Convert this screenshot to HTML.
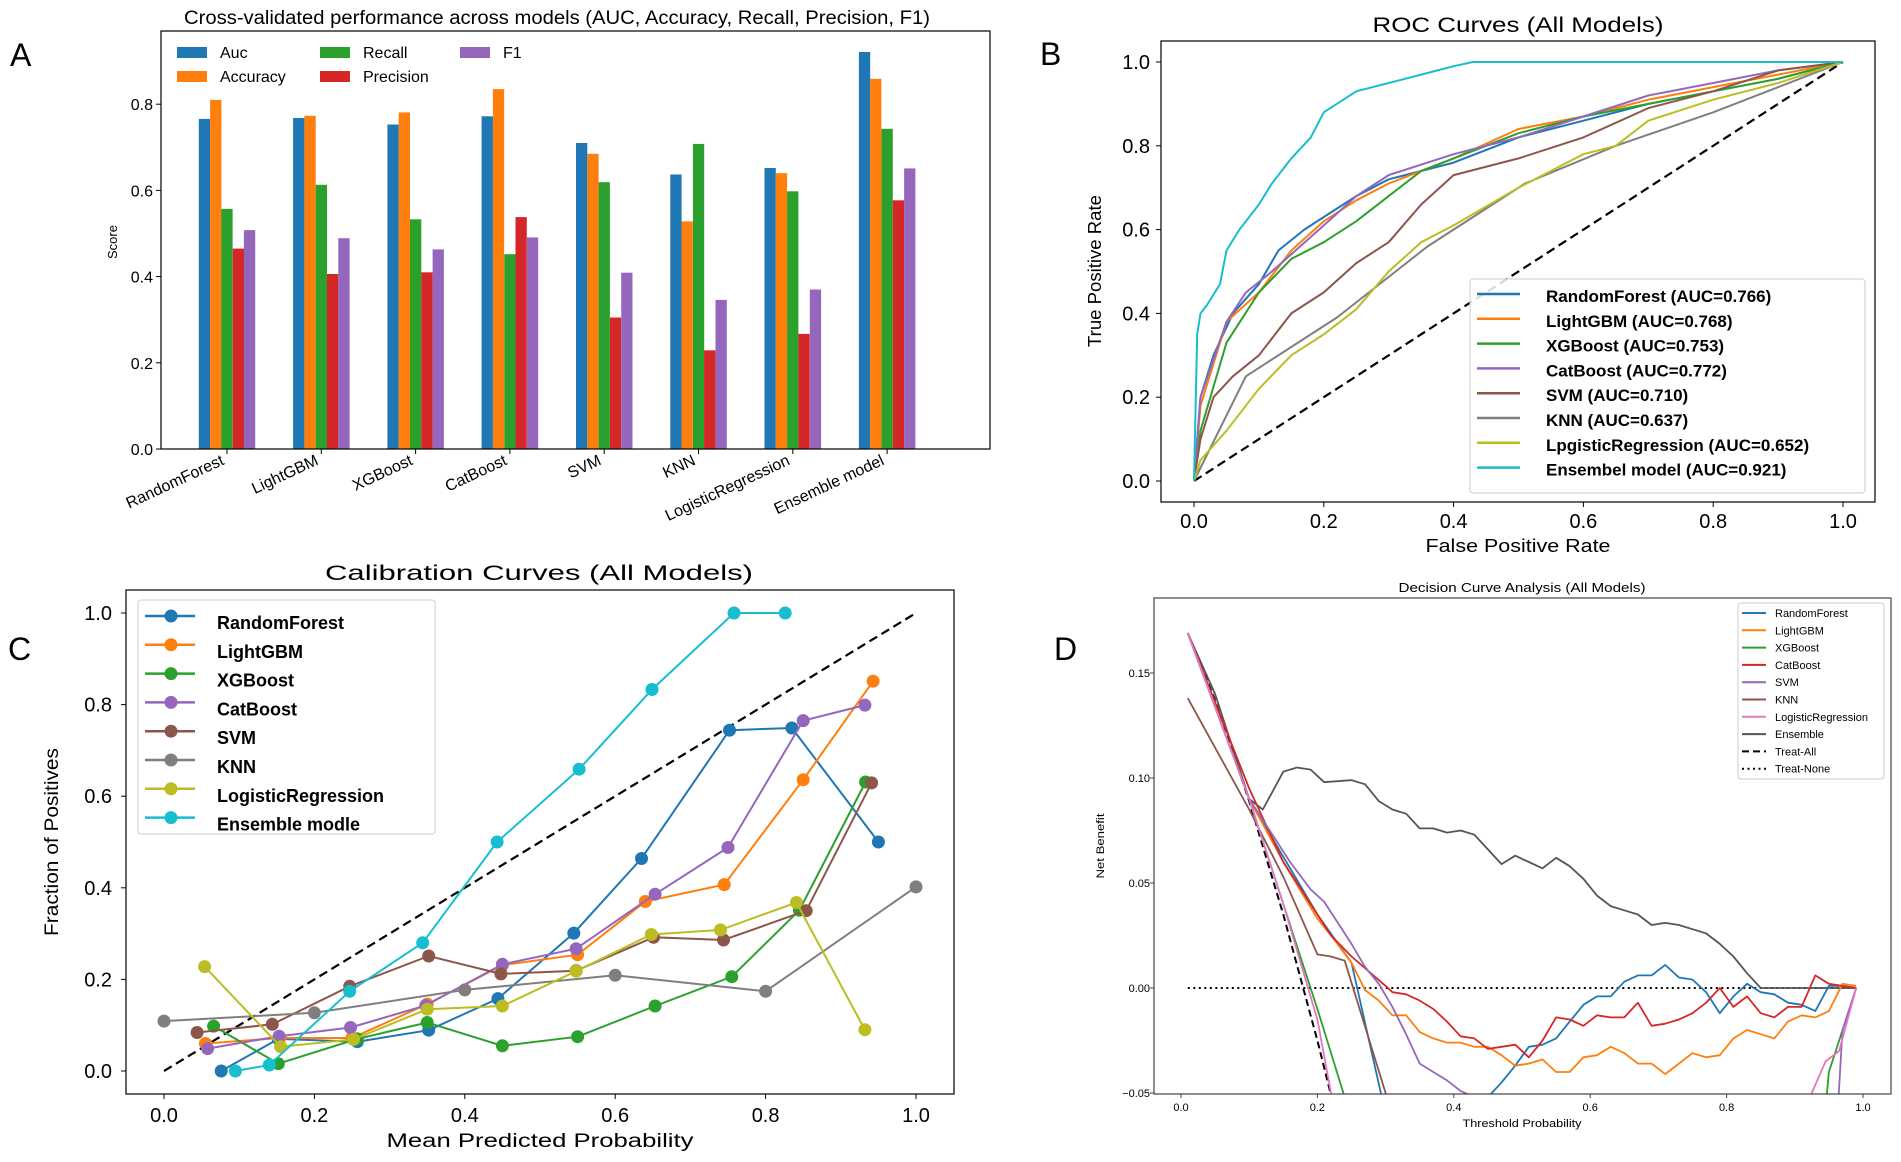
<!DOCTYPE html>
<html><head><meta charset="utf-8">
<style>
html,body{margin:0;padding:0;background:#fff;width:1901px;height:1162px;overflow:hidden;}
svg{display:block;font-family:"Liberation Sans",sans-serif;}
</style></head>
<body>
<svg id="chart" width="1901" height="1162" viewBox="0 0 1901 1162" xmlns="http://www.w3.org/2000/svg">
<defs>
<clipPath id="clipA"><rect x="161" y="31" width="829" height="418"/></clipPath>
<clipPath id="clipB"><rect x="1161" y="41" width="714" height="461"/></clipPath>
<clipPath id="clipC"><rect x="126" y="590" width="828" height="504"/></clipPath>
<clipPath id="clipD"><rect x="1154" y="598" width="737" height="496"/></clipPath>
</defs>
</svg>
<script>
// ---------- Panel A data ----------
const barModels = ["RandomForest","LightGBM","XGBoost","CatBoost","SVM","KNN","LogisticRegression","Ensemble model"];
const aucVals  = [0.766,0.768,0.753,0.772,0.710,0.637,0.652,0.921];
const accVals  = [0.810,0.773,0.781,0.835,0.685,0.528,0.640,0.859];
const recVals  = [0.557,0.613,0.533,0.452,0.619,0.708,0.598,0.743];
const precVals = [0.465,0.406,0.410,0.538,0.305,0.229,0.267,0.577];
const f1Vals   = [0.508,0.489,0.463,0.491,0.409,0.346,0.370,0.651];
const barSeriesNames = ["Auc","Accuracy","Recall","Precision","F1"];
const barTicks = [0.0,0.2,0.4,0.6,0.8];

// ---------- Panel B data (ROC) ----------
const rocNames = ["RandomForest (AUC=0.766)","LightGBM (AUC=0.768)","XGBoost (AUC=0.753)","CatBoost (AUC=0.772)","SVM (AUC=0.710)","KNN (AUC=0.637)","LpgisticRegression (AUC=0.652)","Ensembel model (AUC=0.921)"];
const rocRF_x = [0,0.01,0.03,0.06,0.1,0.13,0.17,0.2,0.25,0.3,0.4,0.5,0.6,0.7,0.8,0.9,1];
const rocRF_y = [0,0.2,0.3,0.4,0.47,0.55,0.6,0.63,0.68,0.72,0.76,0.82,0.86,0.9,0.93,0.96,1];
const rocLG_x = [0,0.01,0.05,0.1,0.15,0.2,0.25,0.3,0.4,0.5,0.6,0.7,0.8,0.9,1];
const rocLG_y = [0,0.18,0.38,0.45,0.55,0.62,0.67,0.71,0.77,0.84,0.87,0.91,0.94,0.97,1];
const rocXG_x = [0,0.01,0.05,0.1,0.15,0.2,0.25,0.3,0.35,0.4,0.5,0.6,0.7,0.8,0.9,1];
const rocXG_y = [0,0.12,0.33,0.45,0.53,0.57,0.62,0.68,0.74,0.77,0.83,0.87,0.9,0.93,0.96,1];
const rocCB_x = [0,0.01,0.05,0.08,0.12,0.2,0.25,0.3,0.4,0.5,0.6,0.7,0.8,0.9,1];
const rocCB_y = [0,0.2,0.38,0.45,0.5,0.61,0.68,0.73,0.78,0.82,0.87,0.92,0.95,0.98,1];
const rocSV_x = [0,0.01,0.03,0.06,0.1,0.15,0.2,0.25,0.3,0.35,0.4,0.5,0.6,0.7,0.8,0.9,1];
const rocSV_y = [0,0.1,0.2,0.25,0.3,0.4,0.45,0.52,0.57,0.66,0.73,0.77,0.82,0.89,0.93,0.98,1];
const rocKN_x = [0,0.08,0.22,0.36,0.51,0.65,0.8,1];
const rocKN_y = [0,0.25,0.39,0.56,0.71,0.8,0.88,1];
const rocLR_x = [0,0.01,0.05,0.1,0.15,0.2,0.25,0.3,0.35,0.4,0.5,0.6,0.65,0.7,0.8,0.9,1];
const rocLR_y = [0,0.05,0.12,0.22,0.3,0.35,0.41,0.5,0.57,0.61,0.7,0.78,0.8,0.86,0.91,0.95,1];
const rocEN_x = [0,0.005,0.01,0.02,0.04,0.05,0.07,0.1,0.12,0.15,0.18,0.2,0.25,0.3,0.35,0.4,0.43,1];
const rocEN_y = [0,0.35,0.4,0.42,0.47,0.55,0.6,0.66,0.71,0.77,0.82,0.88,0.93,0.95,0.97,0.99,1,1];
const unitTicks = [0,0.2,0.4,0.6,0.8,1.0];

// ---------- Panel C data (calibration) ----------
const calNames = ["RandomForest","LightGBM","XGBoost","CatBoost","SVM","KNN","LogisticRegression","Ensemble modle"];
const calRF_x = [0.076,0.152,0.257,0.352,0.444,0.545,0.635,0.752,0.835,0.95];
const calRF_y = [0,0.07,0.064,0.089,0.158,0.301,0.464,0.744,0.749,0.5];
const calLG_x = [0.055,0.154,0.25,0.35,0.45,0.55,0.64,0.745,0.85,0.943];
const calLG_y = [0.06,0.072,0.072,0.146,0.231,0.254,0.37,0.407,0.636,0.851];
const calXG_x = [0.066,0.152,0.257,0.35,0.45,0.55,0.653,0.755,0.845,0.933];
const calXG_y = [0.098,0.016,0.07,0.106,0.055,0.075,0.142,0.206,0.351,0.631];
const calCB_x = [0.058,0.153,0.248,0.348,0.45,0.548,0.653,0.75,0.85,0.932];
const calCB_y = [0.049,0.076,0.095,0.143,0.233,0.267,0.386,0.488,0.765,0.799];
const calSV_x = [0.044,0.144,0.247,0.352,0.448,0.548,0.651,0.744,0.854,0.941];
const calSV_y = [0.084,0.102,0.185,0.251,0.212,0.219,0.292,0.286,0.35,0.629];
const calKN_x = [0,0.2,0.4,0.6,0.8,1.0];
const calKN_y = [0.109,0.127,0.177,0.209,0.174,0.402];
const calLR_x = [0.054,0.155,0.252,0.35,0.45,0.548,0.648,0.74,0.841,0.932];
const calLR_y = [0.228,0.053,0.069,0.135,0.142,0.218,0.298,0.308,0.368,0.09];
const calEN_x = [0.095,0.14,0.247,0.344,0.443,0.552,0.649,0.758,0.826];
const calEN_y = [0,0.013,0.174,0.28,0.5,0.659,0.833,1.0,1.0];

// ---------- Panel D data (decision curves) ----------
const dcaNames = ["RandomForest","LightGBM","XGBoost","CatBoost","SVM","KNN","LogisticRegression","Ensemble","Treat-All","Treat-None"];
const dcaRF_x = [0.01,0.1,0.2,0.25,0.3,0.35,0.4,0.43,0.45,0.47,0.49,0.51,0.53,0.55,0.57,0.59,0.61,0.63,0.65,0.67,0.69,0.71,0.73,0.75,0.77,0.79,0.81,0.83,0.85,0.87,0.89,0.91,0.93,0.95,0.97,0.99];
const dcaRF_y = [0.169,0.09,0.035,0.012,-0.06,-0.075,-0.075,-0.07,-0.052,-0.045,-0.037,-0.028,-0.027,-0.024,-0.016,-0.008,-0.004,-0.004,0.003,0.006,0.006,0.011,0.005,0.004,-0.002,-0.012,-0.004,0.002,-0.002,-0.003,-0.007,-0.008,-0.011,0.001,0.001,0];
const dcaLG_x = [0.01,0.1,0.15,0.2,0.22,0.25,0.27,0.29,0.31,0.33,0.35,0.37,0.39,0.41,0.43,0.45,0.47,0.49,0.51,0.53,0.55,0.57,0.59,0.61,0.63,0.65,0.67,0.69,0.71,0.73,0.75,0.77,0.79,0.81,0.83,0.85,0.87,0.89,0.91,0.93,0.95,0.97,0.99];
const dcaLG_y = [0.169,0.09,0.06,0.033,0.025,0.012,-0.001,-0.006,-0.013,-0.013,-0.021,-0.024,-0.026,-0.026,-0.028,-0.028,-0.032,-0.037,-0.036,-0.034,-0.04,-0.04,-0.033,-0.032,-0.028,-0.031,-0.036,-0.036,-0.041,-0.036,-0.031,-0.033,-0.032,-0.024,-0.02,-0.022,-0.024,-0.016,-0.013,-0.014,-0.011,0.002,0.001];
const dcaXG_x = [0.01,0.1,0.15,0.2,0.24,0.27,0.94,0.95,0.99];
const dcaXG_y = [0.169,0.09,0.04,-0.01,-0.052,-0.075,-0.075,-0.04,0];
const dcaCB_x = [0.01,0.1,0.15,0.2,0.22,0.25,0.3,0.31,0.33,0.35,0.37,0.39,0.41,0.43,0.45,0.47,0.49,0.51,0.53,0.55,0.57,0.59,0.61,0.63,0.65,0.67,0.69,0.71,0.73,0.75,0.77,0.79,0.81,0.83,0.85,0.87,0.89,0.91,0.93,0.95,0.97,0.99];
const dcaCB_y = [0.169,0.095,0.06,0.035,0.025,0.015,0.001,-0.002,-0.003,-0.006,-0.01,-0.016,-0.023,-0.024,-0.029,-0.028,-0.027,-0.033,-0.025,-0.014,-0.015,-0.018,-0.013,-0.014,-0.014,-0.007,-0.018,-0.017,-0.015,-0.012,-0.007,0,-0.009,-0.004,-0.012,-0.014,-0.009,-0.009,0.006,0.002,0.001,0];
const dcaSV_x = [0.01,0.1,0.13,0.16,0.19,0.21,0.23,0.25,0.27,0.29,0.31,0.33,0.35,0.37,0.39,0.41,0.43,0.45,0.96,0.97,0.99];
const dcaSV_y = [0.169,0.09,0.075,0.06,0.047,0.041,0.031,0.021,0.01,0.002,-0.009,-0.022,-0.036,-0.04,-0.044,-0.049,-0.052,-0.075,-0.075,-0.02,0];
const dcaKN_x = [0.01,0.1,0.15,0.2,0.22,0.24,0.3,0.32];
const dcaKN_y = [0.138,0.085,0.053,0.016,0.015,0.013,-0.05,-0.075];
const dcaLR_x = [0.01,0.1,0.15,0.2,0.22,0.25,0.9,0.925,0.945,0.965,0.99];
const dcaLR_y = [0.169,0.09,0.04,-0.015,-0.05,-0.075,-0.075,-0.05,-0.035,-0.03,0];
const dcaEN_x = [0.01,0.05,0.1,0.12,0.15,0.17,0.19,0.21,0.25,0.27,0.29,0.31,0.33,0.35,0.37,0.39,0.41,0.43,0.45,0.47,0.49,0.51,0.53,0.55,0.57,0.59,0.61,0.63,0.65,0.67,0.69,0.71,0.73,0.75,0.77,0.79,0.81,0.83,0.85,0.99];
const dcaEN_y = [0.169,0.14,0.09,0.085,0.103,0.105,0.104,0.098,0.099,0.097,0.089,0.085,0.083,0.076,0.076,0.074,0.075,0.073,0.066,0.059,0.063,0.06,0.057,0.062,0.058,0.052,0.044,0.039,0.037,0.035,0.03,0.031,0.03,0.028,0.026,0.021,0.015,0.007,0,0];
const dcaAll_x = [0.01,0.05,0.1,0.15,0.2,0.22];
const dcaAll_y = [0.169,0.137,0.089,0.035,-0.025,-0.051];
const dcaNone_x = [0.01,0.99];
const dcaNone_y = [0,0];
const dcaXTicks = [0,0.2,0.4,0.6,0.8,1.0];
const dcaYTicks = [-0.05,0,0.05,0.10,0.15];
const dcaYLabels = ["\u22120.05","0.00","0.05","0.10","0.15"];

// ---------- helpers ----------
const NS = "http://www.w3.org/2000/svg";
const svg = document.getElementById('chart');
function mk(tag, attrs, parent){
  const el = document.createElementNS(NS, tag);
  for (const k in attrs) el.setAttribute(k, attrs[k]);
  (parent||svg).appendChild(el);
  return el;
}
function txt(s, attrs, parent){
  const el = mk('text', attrs, parent);
  el.textContent = s;
  return el;
}
const C = {blue:"#1f77b4",orange:"#ff7f0e",green:"#2ca02c",red:"#d62728",purple:"#9467bd",brown:"#8c564b",pink:"#e377c2",gray:"#7f7f7f",olive:"#bcbd22",cyan:"#17becf"};
function pathFrom(xs, ys, sx, sy){
  let d = "";
  for (let i=0;i<xs.length;i++) d += (i?"L":"M") + sx(xs[i]).toFixed(1) + "," + sy(ys[i]).toFixed(1);
  return d;
}

// ================= PANEL A =================
const gA = mk('g', {});


const xA = i => 227 + i*94.3;
const yA = v => 449 - v*431;
const barW = 11.3;
let el;
el = txt("A", {x:10, y:66, "font-size":32, "font-family":"Liberation Sans Narrow, Liberation Sans, sans-serif"}, gA);


el = txt("Cross-validated performance across models (AUC, Accuracy, Recall, Precision, F1)", {x:557, y:24, "font-size":19, "text-anchor":"middle", textLength:746, lengthAdjust:"spacingAndGlyphs"}, gA);


const barSeries = [aucVals, accVals, recVals, precVals, f1Vals];
const barColors = [C.blue, C.orange, C.green, C.red, C.purple];
const barsG = mk('g', {"clip-path":"url(#clipA)"}, gA);
for (let s=0;s<barSeries.length;s++){
  for (let i=0;i<barModels.length;i++){
    const v = barSeries[s][i];
    const x = xA(i) - 2.5*barW + s*barW;
    const b = mk('rect', {x:x.toFixed(1), y:yA(v).toFixed(1), width:barW, height:(yA(0)-yA(v)).toFixed(1), fill:barColors[s]}, barsG);
    
    
  }
}
el = mk('rect', {x:161, y:31, width:829, height:418, fill:"none", stroke:"#000", "stroke-width":1.2}, gA);


for (const t of barTicks){
  mk('line', {x1:156, x2:161, y1:yA(t), y2:yA(t), stroke:"#000"}, gA);
  el = txt(t.toFixed(1), {x:153, y:yA(t)+6, "font-size":16, "text-anchor":"end"}, gA);
  
  
}
for (let i=0;i<barModels.length;i++){
  mk('line', {x1:xA(i), x2:xA(i), y1:449, y2:454, stroke:"#000"}, gA);
  el = txt(barModels[i], {x:xA(i)-2, y:464, "font-size":16, "text-anchor":"end", transform:`rotate(-25 ${xA(i)-2} 464)`}, gA);
  
  
}
el = txt("Score", {x:117, y:242, "font-size":13, "text-anchor":"middle", transform:"rotate(-90 117 242)"}, gA);


const legAPos = [[177,52],[177,76],[320,52],[320,76],[460,52]];
for (let s=0;s<5;s++){
  const [lx,ly] = legAPos[s];
  const lg = mk('g', {}, gA);
  
  
  mk('rect', {x:lx, y:ly-5, width:30, height:11, fill:barColors[s]}, lg);
  txt(barSeriesNames[s], {x:lx+43, y:ly+6, "font-size":16, "font-family":"Liberation Sans Narrow, Liberation Sans, sans-serif"}, lg);
}

// ================= PANEL B =================
const gB = mk('g', {});


const xB = v => 1194 + v*649;
const yB = v => 481 - v*419;
el = txt("B", {x:1040, y:65, "font-size":32, "font-family":"Liberation Sans Narrow, Liberation Sans, sans-serif"}, gB);


el = txt("ROC Curves (All Models)", {x:1518, y:32, "font-size":21, "text-anchor":"middle", textLength:291, lengthAdjust:"spacingAndGlyphs"}, gB);


const rocX = [rocRF_x,rocLG_x,rocXG_x,rocCB_x,rocSV_x,rocKN_x,rocLR_x,rocEN_x];
const rocY = [rocRF_y,rocLG_y,rocXG_y,rocCB_y,rocSV_y,rocKN_y,rocLR_y,rocEN_y];
const rocColors = [C.blue,C.orange,C.green,C.purple,C.brown,C.gray,C.olive,C.cyan];
const rocG = mk('g', {"clip-path":"url(#clipB)"}, gB);
el = mk('path', {d:pathFrom([0,1],[0,1],xB,yB), fill:"none", stroke:"#000", "stroke-width":2.2, "stroke-dasharray":"9,5"}, rocG);


for (let s=0;s<8;s++){
  el = mk('path', {d:pathFrom(rocX[s],rocY[s],xB,yB), fill:"none", stroke:rocColors[s], "stroke-width":2, "stroke-linejoin":"round"}, rocG);
  
  
}
el = mk('rect', {x:1161, y:41, width:714, height:461, fill:"none", stroke:"#000", "stroke-width":1.2}, gB);


for (const t of unitTicks){
  mk('line', {x1:1156, x2:1161, y1:yB(t), y2:yB(t), stroke:"#000"}, gB);
  el = txt(t.toFixed(1), {x:1150, y:yB(t)+7, "font-size":20, "text-anchor":"end"}, gB);
  
  
  mk('line', {x1:xB(t), x2:xB(t), y1:502, y2:507, stroke:"#000"}, gB);
  el = txt(t.toFixed(1), {x:xB(t), y:528, "font-size":20, "text-anchor":"middle"}, gB);
  
  
}
el = txt("False Positive Rate", {x:1518, y:552, "font-size":18, "text-anchor":"middle", textLength:185, lengthAdjust:"spacingAndGlyphs"}, gB);


el = txt("True Positive Rate", {x:1101, y:271, "font-size":18, "text-anchor":"middle", textLength:152, lengthAdjust:"spacingAndGlyphs", transform:"rotate(-90 1101 271)"}, gB);


el = mk('rect', {x:1470, y:279, width:395, height:214, rx:3, fill:"#fff", "fill-opacity":0.85, stroke:"#ccc"}, gB);


for (let s=0;s<8;s++){
  const ly = 294 + s*24.8;
  const lg = mk('g', {}, gB);
  
  
  mk('line', {x1:1477, x2:1520, y1:ly, y2:ly, stroke:rocColors[s], "stroke-width":2.5}, lg);
  txt(rocNames[s], {x:1546, y:ly+8, "font-size":17, "font-weight":"bold"}, lg);
}

// ================= PANEL C =================
const gC = mk('g', {});


const xC = v => 164 + v*752;
const yC = v => 1071 - v*458;
el = txt("C", {x:8, y:660, "font-size":32, "font-family":"Liberation Sans Narrow, Liberation Sans, sans-serif"}, gC);


el = txt("Calibration Curves (All Models)", {x:539, y:580, "font-size":21, "text-anchor":"middle", textLength:428, lengthAdjust:"spacingAndGlyphs"}, gC);


const calX = [calRF_x,calLG_x,calXG_x,calCB_x,calSV_x,calKN_x,calLR_x,calEN_x];
const calY = [calRF_y,calLG_y,calXG_y,calCB_y,calSV_y,calKN_y,calLR_y,calEN_y];
const calG = mk('g', {"clip-path":"url(#clipC)"}, gC);
el = mk('path', {d:pathFrom([0,1],[0,1],xC,yC), fill:"none", stroke:"#000", "stroke-width":2.2, "stroke-dasharray":"9,5"}, calG);


for (let s=0;s<8;s++){
  const sg = mk('g', {}, calG);
  
  
  mk('path', {d:pathFrom(calX[s],calY[s],xC,yC), fill:"none", stroke:rocColors[s], "stroke-width":2}, sg);
  for (let i=0;i<calX[s].length;i++){
    const p = mk('circle', {cx:xC(calX[s][i]).toFixed(1), cy:yC(calY[s][i]).toFixed(1), r:6.5, fill:rocColors[s]}, sg);
    
    
  }
}
el = mk('rect', {x:126, y:590, width:828, height:504, fill:"none", stroke:"#000", "stroke-width":1.2}, gC);


for (const t of unitTicks){
  mk('line', {x1:121, x2:126, y1:yC(t), y2:yC(t), stroke:"#000"}, gC);
  el = txt(t.toFixed(1), {x:112, y:yC(t)+7, "font-size":20, "text-anchor":"end"}, gC);
  
  
  mk('line', {x1:xC(t), x2:xC(t), y1:1094, y2:1099, stroke:"#000"}, gC);
  el = txt(t.toFixed(1), {x:xC(t), y:1122, "font-size":20, "text-anchor":"middle"}, gC);
  
  
}
el = txt("Mean Predicted Probability", {x:540, y:1147, "font-size":19, "text-anchor":"middle", textLength:307, lengthAdjust:"spacingAndGlyphs"}, gC);


el = txt("Fraction of Positives", {x:58, y:842, "font-size":19, "text-anchor":"middle", textLength:188, lengthAdjust:"spacingAndGlyphs", transform:"rotate(-90 58 842)"}, gC);


el = mk('rect', {x:138, y:600, width:297, height:234, rx:3, fill:"#fff", "fill-opacity":0.85, stroke:"#ccc"}, gC);


for (let s=0;s<8;s++){
  const ly = 616 + s*28.8;
  const lg = mk('g', {}, gC);
  
  
  mk('line', {x1:145, x2:195, y1:ly, y2:ly, stroke:rocColors[s], "stroke-width":2.5}, lg);
  mk('circle', {cx:171, cy:ly, r:6.5, fill:rocColors[s]}, lg);
  txt(calNames[s], {x:217, y:ly+13, "font-size":18, "font-weight":"bold"}, lg);
}

// ================= PANEL D =================
const gD = mk('g', {});


const xD = v => 1181 + v*682;
const yD = v => 988 - v*2100;
el = txt("D", {x:1054, y:660, "font-size":32, "font-family":"Liberation Sans Narrow, Liberation Sans, sans-serif"}, gD);


el = txt("Decision Curve Analysis (All Models)", {x:1522, y:592, "font-size":13, "text-anchor":"middle", textLength:247, lengthAdjust:"spacingAndGlyphs"}, gD);


const dcaX = [dcaRF_x,dcaLG_x,dcaXG_x,dcaCB_x,dcaSV_x,dcaKN_x,dcaLR_x,dcaEN_x,dcaAll_x,dcaNone_x];
const dcaY = [dcaRF_y,dcaLG_y,dcaXG_y,dcaCB_y,dcaSV_y,dcaKN_y,dcaLR_y,dcaEN_y,dcaAll_y,dcaNone_y];
const dcaColors = [C.blue,C.orange,C.green,C.red,C.purple,C.brown,C.pink,"#555",'#000','#000'];
const dcaDash = [null,null,null,null,null,null,null,null,"7,4","2,3.5"];
const dcaOrder = [9,8,7,0,1,2,3,4,5,6];
const dcaG = mk('g', {"clip-path":"url(#clipD)"}, gD);
for (const s of dcaOrder){
  const attrs = {d:pathFrom(dcaX[s],dcaY[s],xD,yD), fill:"none", stroke:dcaColors[s], "stroke-width":s>=8?2:1.8, "stroke-linejoin":"round"};
  if (dcaDash[s]) attrs["stroke-dasharray"] = dcaDash[s];
  el = mk('path', attrs, dcaG);
  
  
}
el = mk('rect', {x:1154, y:598, width:737, height:496, fill:"none", stroke:"#444", "stroke-width":1.2}, gD);


for (let i=0;i<dcaYTicks.length;i++){
  const t = dcaYTicks[i];
  mk('line', {x1:1150, x2:1154, y1:yD(t), y2:yD(t), stroke:"#444"}, gD);
  el = txt(dcaYLabels[i], {x:1150, y:yD(t)+4, "font-size":11, "text-anchor":"end"}, gD);
  
  
}
for (const t of dcaXTicks){
  mk('line', {x1:xD(t), x2:xD(t), y1:1094, y2:1098, stroke:"#444"}, gD);
  el = txt(t.toFixed(1), {x:xD(t), y:1111, "font-size":11, "text-anchor":"middle"}, gD);
  
  
}
el = txt("Threshold Probability", {x:1522, y:1127, "font-size":11, "text-anchor":"middle", textLength:119, lengthAdjust:"spacingAndGlyphs"}, gD);


el = txt("Net Benefit", {x:1104, y:846, "font-size":11, "text-anchor":"middle", textLength:65, lengthAdjust:"spacingAndGlyphs", transform:"rotate(-90 1104 846)"}, gD);


el = mk('rect', {x:1738, y:603, width:146, height:176, rx:3, fill:"#fff", "fill-opacity":0.85, stroke:"#ccc"}, gD);


for (let s=0;s<10;s++){
  const ly = 613 + s*17.3;
  const lg = mk('g', {}, gD);
  
  
  const la = {x1:1742, x2:1766, y1:ly, y2:ly, stroke:dcaColors[s], "stroke-width":2};
  if (dcaDash[s]) la["stroke-dasharray"] = dcaDash[s];
  mk('line', la, lg);
  txt(dcaNames[s], {x:1775, y:ly+4, "font-size":11}, lg);
}
</script>
</body></html>
